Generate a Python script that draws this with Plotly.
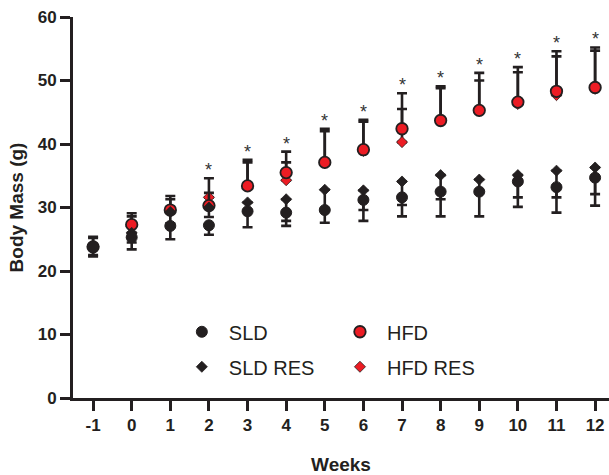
import plotly.graph_objects as go

weeks = [-1, 0, 1, 2, 3, 4, 5, 6, 7, 8, 9, 10, 11, 12]
tick_labels = ["-1", "0", "1", "2", "3", "4", "5", "6", "7", "8", "9", "10", "11", "12"]

sld = [23.8, 25.3, 27.1, 27.2, 29.4, 29.2, 29.6, 31.2, 31.6, 32.5, 32.5, 34.1, 33.2, 34.7]
sld_err_minus = [1.5, 1.9, 2.1, 1.5, 2.5, 2.1, 2.0, 3.3, 3.0, 3.9, 3.9, 4.0, 4.0, 4.4]

sld_res = [23.8, 26.0, 29.3, 30.0, 30.8, 31.3, 32.8, 32.7, 34.1, 35.1, 34.4, 35.1, 35.8, 36.3]
sld_res_err_minus = [1.3, 1.5, 1.8, 1.5, 1.2, 3.4, 3.0, 3.1, 3.7, 3.8, 1.8, 3.5, 4.2, 4.2]

hfd = [23.8, 27.3, 29.6, 30.3, 33.4, 35.5, 37.1, 39.1, 42.4, 43.7, 45.3, 46.6, 48.3, 48.9]
hfd_err_plus = [1.6, 1.8, 2.2, 4.3, 4.1, 3.3, 5.3, 4.7, 5.6, 5.4, 5.9, 5.5, 6.3, 6.3]

hfd_res = [23.8, 27.0, 29.5, 31.6, 33.4, 34.3, 37.0, 38.9, 40.3, 43.6, 45.2, 46.3, 47.7, 48.7]
hfd_res_err_plus = [1.4, 1.6, 1.8, 0.7, 3.7, 2.8, 5.0, 4.6, 5.2, 5.2, 4.8, 5.0, 6.1, 6.0]

signif = [False, False, False, True, True, True, True, True, True, True, True, True, True, True]

BLACK = "#231f20"
RED = "#ec1c24"
FONT = "Liberation Sans, Arial, sans-serif"

fig = go.Figure()


def err_up(vals):
    return dict(type="data", symmetric=False, array=vals, arrayminus=[0] * len(vals),
                color=BLACK, thickness=2.6, width=5)


def err_down(vals):
    return dict(type="data", symmetric=False, array=[0] * len(vals), arrayminus=vals,
                color=BLACK, thickness=2.6, width=5)


fig.add_trace(go.Scatter(
    x=weeks, y=hfd_res, mode="markers", name="HFD RES",
    marker=dict(symbol="diamond", size=8.5, color=RED, line=dict(color=BLACK, width=0.8)),
    error_y=err_up(hfd_res_err_plus), legend="legend2", legendrank=2, legendgroup="d",
))
fig.add_trace(go.Scatter(
    x=weeks, y=hfd, mode="markers", name="HFD",
    marker=dict(symbol="circle", size=11.5, color=RED, line=dict(color=BLACK, width=1.8)),
    error_y=err_up(hfd_err_plus), legend="legend2", legendrank=1, legendgroup="c",
))
fig.add_trace(go.Scatter(
    x=weeks, y=sld_res, mode="markers", name="SLD RES",
    marker=dict(symbol="diamond", size=8.5, color=BLACK, line=dict(color=BLACK, width=0.8)),
    error_y=err_down(sld_res_err_minus), legend="legend", legendrank=2, legendgroup="b",
))
fig.add_trace(go.Scatter(
    x=weeks, y=sld, mode="markers", name="SLD",
    marker=dict(symbol="circle", size=11, color=BLACK, line=dict(color=BLACK, width=1)),
    error_y=err_down(sld_err_minus), legend="legend", legendrank=1, legendgroup="a",
))

annotations = []
for w, h, he, hr, hre, s in zip(weeks, hfd, hfd_err_plus, hfd_res, hfd_res_err_plus, signif):
    if s:
        top = max(h + he, hr + hre)
        annotations.append(dict(x=w, y=top, xref="x", yref="y", text="*", showarrow=False,
                                yanchor="bottom", yshift=-4,
                                font=dict(family=FONT, size=18, color="#333333")))

legend_common = dict(font=dict(family=FONT, size=20, color=BLACK), bgcolor="rgba(0,0,0,0)",
                     itemwidth=44, tracegroupgap=6, traceorder="grouped",
                     xanchor="left", yanchor="top", orientation="v")

fig.update_layout(
    width=609, height=475,
    margin=dict(l=73, r=0, t=17, b=77),
    paper_bgcolor="white", plot_bgcolor="white",
    font=dict(family=FONT, color=BLACK),
    showlegend=True,
    legend=dict(x=0.19, y=0.225, **legend_common),
    legend2=dict(x=0.485, y=0.225, **legend_common),
    annotations=annotations,
    xaxis=dict(
        range=[-1.52, 12.36], tickmode="array", tickvals=weeks, ticktext=tick_labels,
        showgrid=False, zeroline=False, showline=True, linecolor=BLACK, linewidth=3,
        ticks="outside", ticklen=10, tickwidth=3, tickcolor=BLACK,
        tickfont=dict(family=FONT, size=17, color=BLACK, weight="bold"),
        title=dict(text="<b>Weeks</b>", standoff=25, font=dict(family=FONT, size=19, color=BLACK)),
    ),
    yaxis=dict(
        range=[0, 60], tickmode="array", tickvals=[0, 10, 20, 30, 40, 50, 60],
        showgrid=False, zeroline=False, showline=True, linecolor=BLACK, linewidth=3,
        ticks="outside", ticklen=10, tickwidth=3, tickcolor=BLACK,
        tickfont=dict(family=FONT, size=17, color=BLACK, weight="bold"),
        title=dict(text="<b>Body Mass (g)</b>", standoff=10, font=dict(family=FONT, size=19, color=BLACK)),
    ),
)

fig.write_html("out.html")
